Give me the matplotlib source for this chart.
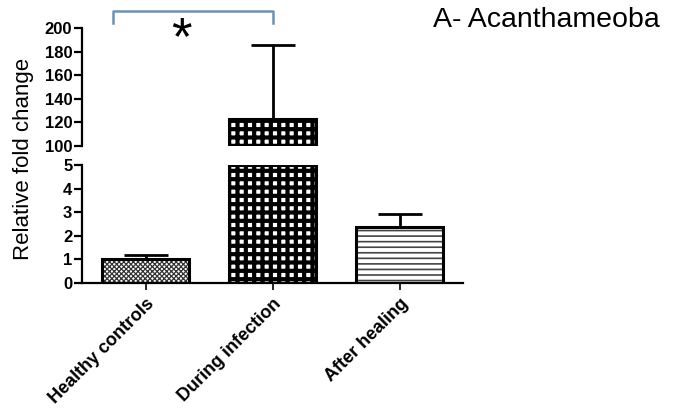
import matplotlib.pyplot as plt
import numpy as np

plt.rcParams['font.family'] = ['Liberation Sans', 'DejaVu Sans']

groups = ['Healthy controls', 'During infection', 'After healing']
means = [1.03, 123.0, 2.37]
sem = [0.15, 63.0, 0.55]
hatches = ['xxxxxxx', '++', '---']
top_ticks = [100, 120, 140, 160, 180, 200]
bottom_ticks = [0, 1, 2, 3, 4, 5]

fig = plt.figure(figsize=(6.78, 4.18), dpi=100)
ax_top = fig.add_axes([0.121, 0.651, 0.562, 0.282])
ax_bot = fig.add_axes([0.121, 0.323, 0.562, 0.282])

x = np.arange(len(groups))
w = 0.68

for ax, lo, hi in [(ax_top, 100, 200), (ax_bot, 0, 5)]:
    for i in range(len(groups)):
        if means[i] <= lo:
            continue
        h = min(means[i], hi) - lo
        if i == 1:
            plt.rcParams['hatch.linewidth'] = 3.0
            hc = 'black'
        elif i == 0:
            plt.rcParams['hatch.linewidth'] = 0.9
            hc = '#333333'
        else:
            plt.rcParams['hatch.linewidth'] = 1.2
            hc = '#444444'
        ax.bar(x[i], h, w, bottom=lo, color='white', edgecolor=hc,
               hatch=hatches[i], linewidth=0, zorder=2)
        ax.bar(x[i], h, w, bottom=lo, facecolor='none', edgecolor='black',
               linewidth=2.2, zorder=3)
    ax.errorbar(x, means, yerr=[[0, 0, 0], sem], fmt='none', ecolor='black',
                elinewidth=2, capsize=16, capthick=2, zorder=1)
    ax.set_xlim(-0.5, 2.5)
    ax.set_ylim(lo, hi)
    for s in ['top', 'right']:
        ax.spines[s].set_visible(False)
    ax.spines['left'].set_linewidth(1.6)
    ax.tick_params(axis='y', width=1.6, length=6, labelsize=12, pad=1)

ax_top.set_yticks(top_ticks)
ax_top.spines['bottom'].set_visible(False)
ax_top.set_xticks([])
ax_bot.set_yticks(bottom_ticks)
ax_bot.spines['bottom'].set_linewidth(1.6)
ax_bot.set_xticks(x)
ax_bot.set_xticklabels(groups, rotation=45, ha='right', rotation_mode='anchor',
                       fontsize=13, fontweight='bold')
ax_bot.tick_params(axis='x', width=1.2, length=5, pad=4)
for ax in (ax_top, ax_bot):
    for lab in ax.get_yticklabels():
        lab.set_fontweight('bold')

fig.text(0.035, 0.62, 'Relative fold change', rotation=90, ha='center',
         va='center', fontsize=16)

ax_top.plot([-0.26, -0.26, 1.0, 1.0], [204, 214.5, 214.5, 204], color='#6b93b8',
            lw=1.8, clip_on=False)
ax_top.text(0.28, 190, '*', ha='center', va='center', fontsize=38, clip_on=False)

fig.text(0.638, 0.953, 'A- Acanthameoba', fontsize=20.5, ha='left', va='center')

fig.savefig('out.png', dpi=100)
